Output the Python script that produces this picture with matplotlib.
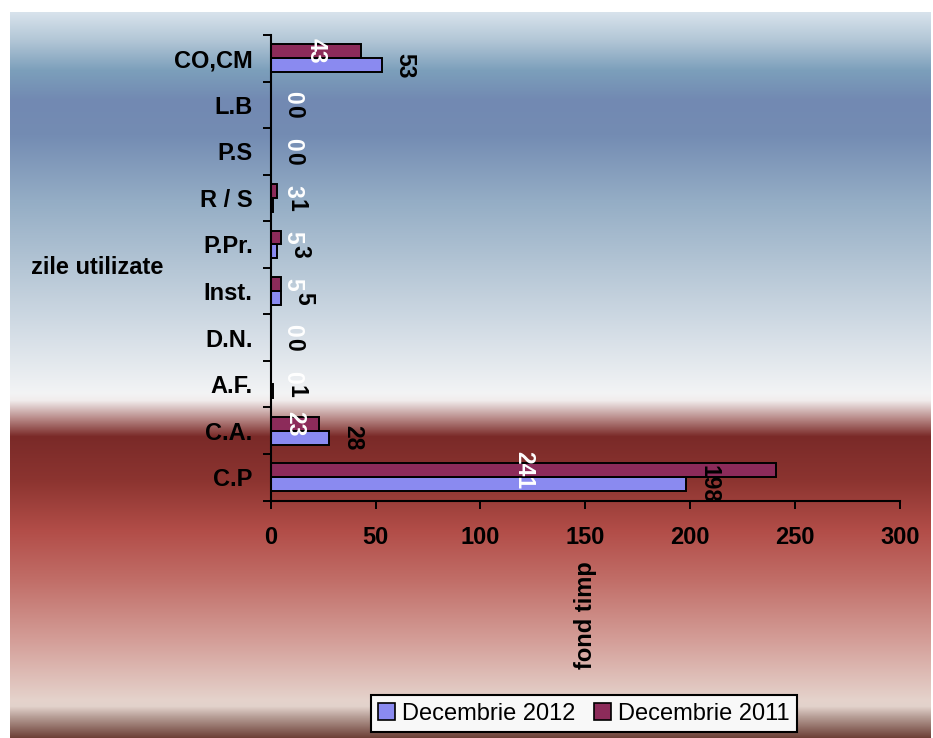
import numpy as np
import matplotlib
matplotlib.use("Agg")
import matplotlib.pyplot as plt
from matplotlib.colors import to_rgb
from matplotlib.patches import Patch

plt.rcParams["font.family"] = ["Liberation Sans", "DejaVu Sans"]

# data, bottom category first (as drawn from the axis upwards)
categories = ["C.P", "C.A.", "A.F.", "D.N.", "Inst.", "P.Pr.", "R / S", "P.S", "L.B", "CO,CM"]
dec_2012 = [198, 28, 1, 0, 5, 3, 1, 0, 0, 53]
dec_2011 = [241, 23, 0, 0, 5, 5, 3, 0, 0, 43]
series_names = ["Decembrie 2012", "Decembrie 2011"]
x_ticks = [0, 50, 100, 150, 200, 250, 300]

color_2012 = "#8a8af0"
color_2011 = "#8c2b5a"

W, H = 933, 738
fig = plt.figure(figsize=(W / 100, H / 100), dpi=100, facecolor="white")

# background gradient (pixel row -> colour)
stops = [
    (12, "#d8e3ec"), (40, "#b2c6d6"), (70, "#7c9fbb"), (100, "#7289b2"),
    (135, "#748cb3"), (200, "#94adc5"), (270, "#b6c7d6"), (340, "#d8e0e8"),
    (393, "#f3f4f5"), (400, "#f1ecec"), (418, "#b88a88"), (436, "#7a2a28"),
    (480, "#8c3430"), (530, "#b24d48"), (580, "#c16e68"), (640, "#d49e98"),
    (700, "#e5d3cc"), (706, "#e2d2cb"), (716, "#b8a098"), (738, "#6a3c33"),
]
rows = np.arange(12, H)
sy = [s[0] for s in stops]
rgb = np.array([to_rgb(s[1]) for s in stops])
grad = np.stack([np.interp(rows, sy, rgb[:, k]) for k in range(3)], axis=-1)
grad = grad[:, None, :]
bg = fig.add_axes([10 / W, 0, (931 - 10) / W, (H - 12) / H], zorder=-5)
bg.imshow(grad, aspect="auto", extent=[0, 1, 0, 1], interpolation="bilinear")
bg.set_axis_off()

left, right, top, bottom = 270.7, 900, 35, 500.5
ax = fig.add_axes([left / W, 1 - bottom / H, (right - left) / W, (bottom - top) / H])
ax.set_facecolor("none")

y = np.arange(len(categories))
h = 0.30
ax.barh(y - h / 2, dec_2012, height=h, color=color_2012, edgecolor="black", linewidth=1.4)
ax.barh(y + h / 2, dec_2011, height=h, color=color_2011, edgecolor="black", linewidth=1.4)

for i in range(len(categories)):
    v1 = dec_2011[i]
    ax.text(max(v1 / 2, 10.5), y[i] + h / 2, str(v1), rotation=270, color="white",
            fontsize=16.5, fontweight="bold", ha="center", va="center")
    v2 = dec_2012[i]
    ax.annotate(str(v2), (v2, y[i] - h / 2), xytext=(16.5, 0), textcoords="offset points",
                rotation=270, color="black", fontsize=16.5, fontweight="bold",
                ha="center", va="center")

ax.set_xlim(0, 300)
ax.set_ylim(-0.5, len(categories) - 0.5)
ax.set_xticks(x_ticks)
ax.set_xticklabels([str(t) for t in x_ticks], fontsize=17, fontweight="bold")
ax.set_yticks(np.arange(-0.5, len(categories)), labels=[])
ax.set_yticks(y, labels=categories, minor=True)
ax.tick_params(axis="y", which="minor", length=0, pad=13, labelsize=17)
for lab in ax.get_yticklabels(minor=True):
    lab.set_fontweight("bold")
ax.tick_params(axis="both", which="major", length=6, width=1.4, direction="out")
ax.tick_params(axis="x", pad=12)

for s in ["top", "right"]:
    ax.spines[s].set_visible(False)
for s in ["left", "bottom"]:
    ax.spines[s].set_linewidth(1.5)

ax.set_xlabel("fond timp", rotation=90, fontsize=17, fontweight="bold", va="top")
ax.xaxis.set_label_coords(0.5, -0.13)
ax.set_ylabel("zile utilizate", rotation=0, fontsize=17, fontweight="bold", ha="center", va="center")
ax.yaxis.set_label_coords(-0.276, 0.5)

handles = [Patch(facecolor=color_2012, edgecolor="black", linewidth=1.2),
           Patch(facecolor=color_2011, edgecolor="black", linewidth=1.2)]
leg = fig.legend(handles, series_names, loc="center", ncol=2,
                 bbox_to_anchor=(584 / W, 1 - 713.5 / H), fontsize=17,
                 frameon=True, fancybox=False, framealpha=1, facecolor="#f8f8f8",
                 edgecolor="black", handlelength=0.7, handleheight=0.7,
                 handletextpad=0.3, columnspacing=0.8, borderpad=0.3)
leg.get_frame().set_linewidth(1.5)

fig.savefig("out.png", dpi=100)
